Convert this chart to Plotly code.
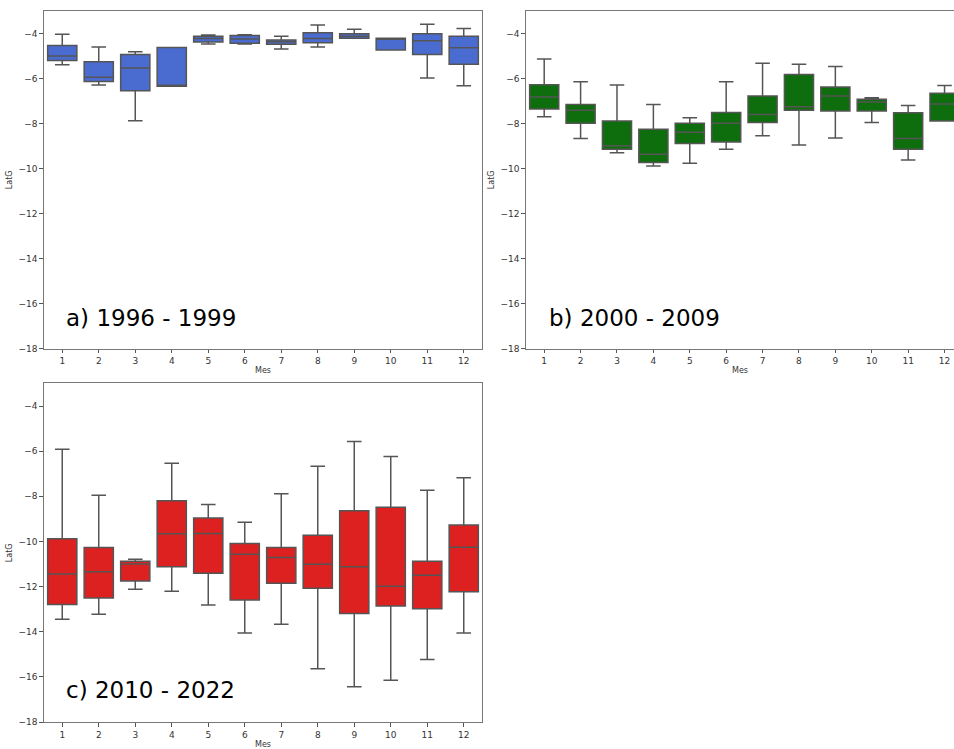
import plotly.graph_objects as go

months = list(range(1, 13))

# Panel a) 1996 - 1999
a_upper = [-4.04, -4.60, -4.81, -4.62, -4.07, -4.06, -4.12, -3.63, -3.81, -4.21, -3.59, -3.78]
a_q3    = [-4.53, -5.26, -4.94, -4.62, -4.12, -4.09, -4.29, -3.97, -4.01, -4.21, -4.01, -4.12]
a_med   = [-5.00, -5.95, -5.54, -6.32, -4.23, -4.25, -4.37, -4.23, -4.12, -4.23, -4.32, -4.63]
a_q1    = [-5.20, -6.13, -6.54, -6.34, -4.38, -4.44, -4.48, -4.41, -4.21, -4.73, -4.93, -5.37]
a_lower = [-5.39, -6.29, -7.88, -6.34, -4.47, -4.47, -4.69, -4.60, -4.21, -4.73, -5.98, -6.32]

# Panel b) 2000 - 2009
b_upper = [-5.13, -6.14, -6.29, -7.16, -7.74, -6.14, -5.32, -5.37, -5.47, -6.86, -7.20, -6.31]
b_q3    = [-6.28, -7.16, -7.89, -8.26, -7.99, -7.51, -6.78, -5.82, -6.38, -6.92, -7.52, -6.66]
b_med   = [-6.82, -7.41, -8.99, -9.37, -8.39, -7.99, -7.60, -7.26, -6.78, -7.05, -8.67, -7.13]
b_q1    = [-7.36, -7.99, -9.14, -9.73, -8.89, -8.82, -7.96, -7.41, -7.44, -7.44, -9.14, -7.89]
b_lower = [-7.70, -8.67, -9.30, -9.89, -9.76, -9.14, -8.54, -8.96, -8.64, -7.96, -9.62, -7.89]

# Panel c) 2010 - 2022
c_upper = [-5.91, -7.95, -10.79, -6.54, -8.36, -9.15, -7.89, -6.67, -5.57, -6.24, -7.73, -7.18]
c_q3    = [-9.88, -10.27, -10.88, -8.20, -8.96, -10.09, -10.27, -9.72, -8.64, -8.48, -10.88, -9.27]
c_med   = [-11.44, -11.34, -11.00, -9.66, -9.65, -10.57, -10.71, -11.01, -11.12, -11.98, -11.50, -10.25]
c_q1    = [-12.79, -12.50, -11.75, -11.12, -11.41, -12.59, -11.85, -12.07, -13.19, -12.86, -12.98, -12.23]
c_lower = [-13.44, -13.22, -12.12, -12.20, -12.81, -14.05, -13.67, -15.64, -16.43, -16.15, -15.23, -14.05]

labels = ["a) 1996 - 1999", "b) 2000 - 2009", "c) 2010 - 2022"]
colors = ["#4a6cd0", "#0e6e0e", "#dd2020"]
yticks = [-18, -16, -14, -12, -10, -8, -6, -4]

W, H = 954, 749
fig = go.Figure()

panels = [
    (a_upper, a_q3, a_med, a_q1, a_lower, "x", "y"),
    (b_upper, b_q3, b_med, b_q1, b_lower, "x2", "y2"),
    (c_upper, c_q3, c_med, c_q1, c_lower, "x3", "y3"),
]
for i, (up, q3, md, q1, lo, xa, ya) in enumerate(panels):
    fig.add_trace(go.Box(
        x=months, q1=q1, median=md, q3=q3, lowerfence=lo, upperfence=up,
        width=0.8, whiskerwidth=0.5, boxpoints=False,
        fillcolor=colors[i], line=dict(color="#555555", width=1.5),
        xaxis=xa, yaxis=ya, showlegend=False, hoverinfo="skip",
    ))

# pixel boxes of panels: (left, right, top, bottom)
px = [(44, 482, 11, 351), (526, 954, 11, 351), (44, 482, 386, 727)]
xranges = [[0.5, 12.5], [0.5, 12.26], [0.5, 12.5]]
names = ["", "2", "3"]
tickfont = dict(family="DejaVu Sans", size=9, color="#333333")
titlefont = dict(family="DejaVu Sans", size=8, color="#333333")
for i, (l, r, t, b) in enumerate(px):
    xd = [l / W, r / W]
    yd = [1 - b / H, 1 - t / H]
    fig.layout["xaxis" + names[i]] = dict(
        domain=xd, range=xranges[i], anchor="y" + names[i],
        tickvals=months, ticktext=[str(m) for m in months],
        ticks="outside", ticklen=3.5, tickcolor="#555555", tickwidth=1,
        showline=True, linecolor="#777777", linewidth=1.2, mirror=True,
        showgrid=False, zeroline=False, tickfont=tickfont,
        title=dict(text="Mes", font=titlefont, standoff=2),
    )
    fig.layout["yaxis" + names[i]] = dict(
        domain=yd, range=[-18, -3], anchor="x" + names[i],
        tickvals=yticks, ticktext=["\u2212" + str(-v) for v in yticks],
        ticks="outside", ticklen=3.5, tickcolor="#555555", tickwidth=1,
        showline=True, linecolor="#777777", linewidth=1.2,
        mirror=(i != 1),
        showgrid=False, zeroline=False, tickfont=tickfont,
        title=dict(text="LatG", font=titlefont, standoff=4),
    )
    fig.add_annotation(
        text=labels[i], xref="x" + names[i] + " domain", yref="y" + names[i] + " domain",
        x=(64 - l) / (r - l) if i != 1 else (547 - l) / (r - l),
        y=(b - (320 if i < 2 else 695)) / (b - t),
        xanchor="left", yanchor="middle", showarrow=False,
        font=dict(family="DejaVu Sans", size=23, color="black"),
    )

fig.update_layout(
    width=W, height=H, margin=dict(l=0, r=0, t=0, b=0),
    paper_bgcolor="white", plot_bgcolor="white",
    boxgap=0, boxgroupgap=0,
)
fig.write_html(
    "out.html",
    config={"displayModeBar": False, "staticPlot": True},
    post_script="document.body.style.margin='0';document.body.style.overflow='hidden';",
)
